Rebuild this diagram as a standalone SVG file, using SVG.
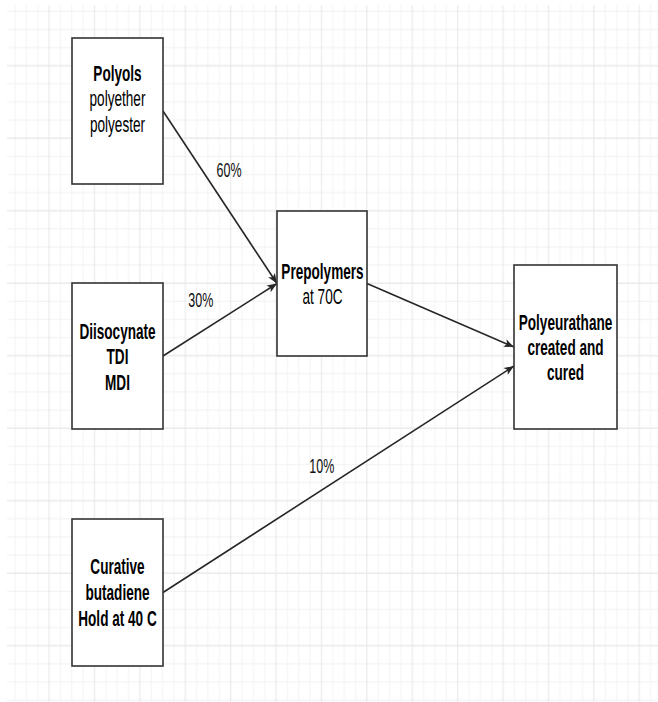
<svg xmlns="http://www.w3.org/2000/svg" width="658" height="702" viewBox="0 0 658 702">
  <defs>
    <style>
      .box { fill: #ffffff; stroke: #333333; stroke-width: 1.6; }
      .edge { fill: none; stroke: #262626; stroke-width: 1.6; marker-end: url(#arrow); }
      .t { font-family: "Liberation Sans", Arial, sans-serif; font-size: 21.7px; fill: #000000; text-anchor: middle; }
      .b { font-weight: bold; }
      .lbl { font-family: "Liberation Sans", Arial, sans-serif; font-size: 19.5px; fill: #111111; text-anchor: middle; }
      .minor { stroke: #f3f3f3; stroke-width: 1; }
      .major { stroke: #e6e6e6; stroke-width: 1; }
    </style>
    <pattern id="grid" patternUnits="userSpaceOnUse" x="-1.975" y="-15.86" width="45.4" height="72.5">
      <line class="minor" x1="0" y1="27.19" x2="45.4" y2="27.19"/>
      <line class="minor" x1="0" y1="45.31" x2="45.4" y2="45.31"/>
      <line class="minor" x1="0" y1="63.44" x2="45.4" y2="63.44"/>
      <line class="minor" x1="17.025" y1="0" x2="17.025" y2="72.5"/>
      <line class="minor" x1="28.375" y1="0" x2="28.375" y2="72.5"/>
      <line class="minor" x1="39.725" y1="0" x2="39.725" y2="72.5"/>
      <line class="major" x1="0" y1="9.06" x2="45.4" y2="9.06"/>
      <line class="major" x1="5.675" y1="0" x2="5.675" y2="72.5"/>
    </pattern>
    <marker id="arrow" markerUnits="userSpaceOnUse" markerWidth="11" markerHeight="10" viewBox="0 0 11 10" refX="10.5" refY="5" orient="auto">
      <path d="M0.5,1 L10.5,5 L0.5,9 L3,5 Z" fill="#262626"/>
    </marker>
  </defs>
  <rect x="0" y="0" width="658" height="702" fill="#ffffff"/>
  <rect x="7" y="5" width="651" height="697" fill="url(#grid)"/>

  <g id="connectors">
    <path class="edge" d="M163,111 L277,283.5"/>
    <path class="edge" d="M163,356 L277,283.5"/>
    <path class="edge" d="M367,283.5 L514,347"/>
    <path class="edge" d="M163,592.5 L514,366"/>
    <text class="lbl" transform="translate(229,176.7) scale(0.64,1)">60%</text>
    <text class="lbl" transform="translate(200.8,307.3) scale(0.64,1)">30%</text>
    <text class="lbl" transform="translate(321.8,473.3) scale(0.64,1)">10%</text>
  </g>

  <g id="polyols">
    <rect class="box" x="72" y="38" width="91" height="146"/>
    <text class="t" transform="translate(117.5,81) scale(0.626,1)"><tspan class="b" x="0">Polyols</tspan><tspan x="0" dy="25.4">polyether</tspan><tspan x="0" dy="25.3">polyester</tspan></text>
  </g>

  <g id="diisocynate">
    <rect class="box" x="72" y="283" width="91" height="146"/>
    <text class="t b" transform="translate(117.5,339) scale(0.626,1)"><tspan x="0">Diisocynate</tspan><tspan x="0" dy="25.5">TDI</tspan><tspan x="0" dy="25.5">MDI</tspan></text>
  </g>

  <g id="curative">
    <rect class="box" x="72" y="519" width="91" height="147"/>
    <text class="t b" transform="translate(117.5,574.3) scale(0.626,1)"><tspan x="0">Curative</tspan><tspan x="0" dy="25.7">butadiene</tspan><tspan x="0" dy="25.7">Hold at 40 C</tspan></text>
  </g>

  <g id="prepolymers">
    <rect class="box" x="277" y="211" width="90" height="145"/>
    <text class="t" transform="translate(322.5,279.3) scale(0.626,1)"><tspan class="b" x="0">Prepolymers</tspan><tspan x="0" dy="24.8">at 70C</tspan></text>
  </g>

  <g id="polyeurathane">
    <rect class="box" x="514" y="265" width="103" height="164"/>
    <text class="t b" transform="translate(565.5,330) scale(0.626,1)"><tspan x="0">Polyeurathane</tspan><tspan x="0" dy="25">created and</tspan><tspan x="0" dy="25">cured</tspan></text>
  </g>
</svg>
